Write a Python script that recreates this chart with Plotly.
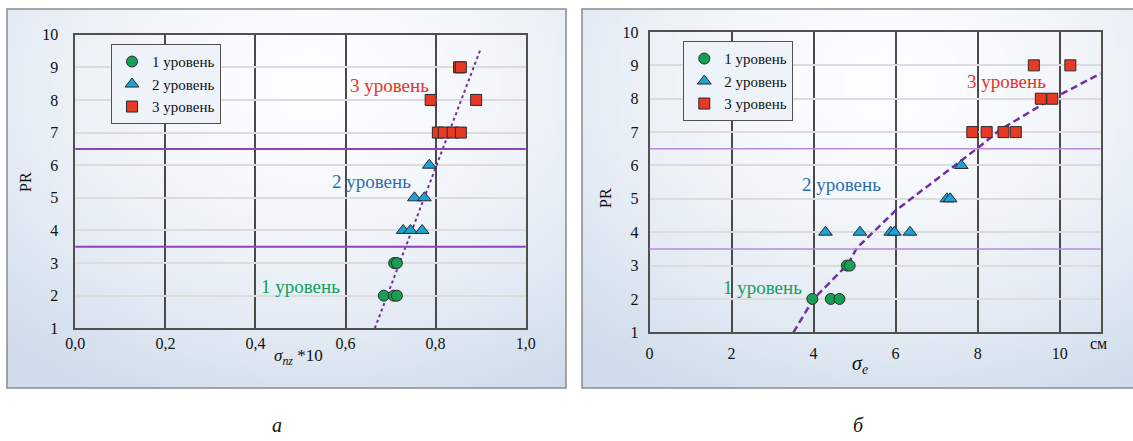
import base64
import struct
import zlib

import numpy as np
import plotly.graph_objects as go

# ---------------- data ----------------
# Panel a: sigma_nz*10 vs PR
a_l1_x = [0.685, 0.707, 0.714, 0.708, 0.714]
a_l1_y = [2, 2, 2, 3, 3]
a_l2_x = [0.728, 0.744, 0.770, 0.753, 0.775, 0.786]
a_l2_y = [4, 4, 4, 5, 5, 6]
a_l3_x = [0.805, 0.818, 0.838, 0.856, 0.789, 0.890, 0.852, 0.856]
a_l3_y = [7, 7, 7, 7, 8, 8, 9, 9]
a_trend_x = [0.665, 0.900]
a_trend_y = [1.0, 9.57]

# Panel b: sigma_e (cm) vs PR
b_l1_x = [3.97, 4.42, 4.63, 4.81, 4.88]
b_l1_y = [2, 2, 2, 3, 3]
b_l2_x = [4.29, 5.13, 5.88, 5.97, 6.35, 7.25, 7.33, 7.60]
b_l2_y = [4, 4, 4, 4, 4, 5, 5, 6]
b_l3_x = [7.87, 8.22, 8.63, 8.93, 9.54, 9.82, 9.37, 10.26]
b_l3_y = [7, 7, 7, 7, 8, 8, 9, 9]
b_trend_x = [3.51, 4.00, 4.85, 5.05, 6.00, 8.00, 8.55, 9.69, 11.0]
b_trend_y = [1.00, 2.00, 3.06, 3.52, 4.65, 6.52, 7.07, 7.91, 8.76]

level_bounds = [3.5, 6.5]
level_names = ["1 уровень", "2 уровень", "3 уровень"]

a_xticks = [0.0, 0.2, 0.4, 0.6, 0.8, 1.0]
a_xticktext = ["0,0", "0,2", "0,4", "0,6", "0,8", "1,0"]
b_xticks = [0, 2, 4, 6, 8, 10]
y_ticks = list(range(1, 11))

# ---------------- style ----------------
SERIF = "Liberation Serif, serif"
GREEN = "#17a055"
BLUE = "#1ca2d6"
RED = "#e63a25"
PURPLE = "#7030a0"
W, H = 1133, 441


def px_x(p):
    return p / W


def px_y(p):
    return 1 - p / H


def gradient_png(w=80, h=60, cx=0.55, cy=0.2):
    u = np.linspace(0, 1, w)[None, :]
    v = np.linspace(0, 1, h)[:, None]
    d = np.sqrt(((u - cx) / 0.85) ** 2 + ((v - cy) / 0.95) ** 2)
    t = np.clip(d, 0, 1) ** 1.6
    c0 = np.array([253, 254, 255], float)
    c1 = np.array([206, 219, 235], float)
    img = (c0[None, None, :] * (1 - t[..., None]) + c1[None, None, :] * t[..., None]).astype(np.uint8)
    raw = b"".join(b"\x00" + img[r].tobytes() for r in range(h))

    def chunk(tag, data):
        return struct.pack(">I", len(data)) + tag + data + struct.pack(">I", zlib.crc32(tag + data) & 0xFFFFFFFF)

    png = (b"\x89PNG\r\n\x1a\n" + chunk(b"IHDR", struct.pack(">IIBBBBB", w, h, 8, 2, 0, 0, 0))
           + chunk(b"IDAT", zlib.compress(raw, 9)) + chunk(b"IEND", b""))
    return "data:image/png;base64," + base64.b64encode(png).decode()


fig = go.Figure()

marker_specs = [
    dict(symbol="circle", size=11, color=GREEN),
    dict(symbol="triangle-up", size=12, color=BLUE),
    dict(symbol="square", size=11, color=RED),
]

panels = [
    ("x", "y", "legend", [(a_l1_x, a_l1_y), (a_l2_x, a_l2_y), (a_l3_x, a_l3_y)], a_trend_x, a_trend_y, "3px,3px", 2),
    ("x2", "y2", "legend2", [(b_l1_x, b_l1_y), (b_l2_x, b_l2_y), (b_l3_x, b_l3_y)], b_trend_x, b_trend_y, "7px,4px", 2.5),
]

for xa, ya, leg, series, tx, ty, dash, tw in panels:
    fig.add_trace(go.Scatter(x=tx, y=ty, mode="lines", xaxis=xa, yaxis=ya, showlegend=False,
                             line=dict(color=PURPLE, width=tw, dash=dash), hoverinfo="skip"))
    for (sx, sy), name, ms in zip(series, level_names, marker_specs):
        fig.add_trace(go.Scatter(
            x=sx, y=sy, mode="markers", name=name, xaxis=xa, yaxis=ya, legend=leg,
            marker=dict(symbol=ms["symbol"], size=ms["size"], color=ms["color"],
                        line=dict(color="#2a2a2a", width=1)),
        ))

# level boundary lines
for xa_ref, ya_ref, col, wid in [("x domain", "y", "#8e44b5", 2), ("x2 domain", "y2", "#b98ad8", 1.5)]:
    for b in level_bounds:
        fig.add_shape(type="line", xref=xa_ref, yref=ya_ref, x0=0, x1=1, y0=b, y1=b,
                      line=dict(color=col, width=wid))

# panel frames with gradient backgrounds
frames = [(7, 566, 9, 388), (582, 1140, 9, 388)]
grad = gradient_png()
for x0, x1, y0, y1 in frames:
    fig.add_layout_image(source=grad, xref="paper", yref="paper", x=px_x(x0), y=px_y(y0),
                         sizex=px_x(x1 - x0), sizey=(y1 - y0) / H, xanchor="left", yanchor="top",
                         sizing="stretch", layer="below")
    fig.add_shape(type="rect", xref="paper", yref="paper", x0=px_x(x0), x1=px_x(x1),
                  y0=px_y(y1), y1=px_y(y0), line=dict(color="#8a8a8a", width=1.5),
                  fillcolor="rgba(0,0,0,0)", layer="below")

axis_common = dict(showline=True, mirror=True, linecolor="#505050", linewidth=1.5,
                   zeroline=False, ticks="", automargin=False,
                   tickfont=dict(family=SERIF, size=16, color="#111"))

legend_common = dict(xanchor="left", yanchor="top", bgcolor="#eef3f9", bordercolor="#505050",
                     borderwidth=1, font=dict(family=SERIF, size=15, color="#111"),
                     itemwidth=30, tracegroupgap=0)

fig.update_layout(
    width=W, height=H, margin=dict(l=0, r=0, t=0, b=0, autoexpand=False),
    paper_bgcolor="white", plot_bgcolor="rgba(255,255,255,0.45)",
    font=dict(family=SERIF, size=16, color="#111"),
    xaxis=dict(domain=[px_x(75.3), px_x(525.7)], range=[0, 1], anchor="y",
               tickvals=a_xticks, ticktext=a_xticktext, showgrid=True, gridcolor="#4a4a4a",
               gridwidth=1.5, ticklabelstandoff=0, **axis_common),
    yaxis=dict(domain=[px_y(328.3), px_y(34.7)], range=[1, 10], anchor="x",
               tickvals=y_ticks, showgrid=True, gridcolor="#dcdcdc", gridwidth=1.5,
               ticklabelstandoff=12, **axis_common),
    xaxis2=dict(domain=[px_x(649.5), px_x(1100.7)], range=[0, 11], anchor="y2",
                tickvals=b_xticks, showgrid=True, gridcolor="#4a4a4a",
                gridwidth=1.5, ticklabelstandoff=6, **axis_common),
    yaxis2=dict(domain=[px_y(332.3), px_y(32)], range=[1, 10], anchor="x2",
                tickvals=y_ticks, showgrid=True, gridcolor="#dcdcdc", gridwidth=1.5,
                ticklabelstandoff=6, **axis_common),
    legend=dict(x=px_x(111), y=px_y(44.3), **legend_common),
    legend2=dict(x=px_x(683.3), y=px_y(41.3), **legend_common),
    showlegend=True,
)

# level labels inside plots
label_colors = ["#14a05a", "#2f6db3", "#e8322a"]
a_label_pos = [(0.50, 2.27), (0.658, 5.49), (0.698, 8.43)]
b_label_pos = [(2.76, 2.35), (4.69, 5.44), (8.71, 8.53)]
for (xa, ya, pos) in [("x", "y", a_label_pos), ("x2", "y2", b_label_pos)]:
    for (lx, ly), name, col in zip(pos, level_names, label_colors):
        fig.add_annotation(x=lx, y=ly, xref=xa, yref=ya, text=name, showarrow=False,
                           font=dict(family=SERIF, size=19, color=col))

# axis titles and captions
texts = [
    (25, 182, "PR", 16, -90),
    (605, 198, "PR", 16, -90),
    (299, 357, "<i>σ<sub>nz</sub></i> *10", 17, 0),
    (860, 364, "<i>σ<sub>e</sub></i>", 20, 0),
    (1098, 343, "см", 16, 0),
    (277, 425, "<i>а</i>", 20, 0),
    (858, 425, "<i>б</i>", 20, 0),
]
for tx_, ty_, txt, fs, ang in texts:
    fig.add_annotation(x=px_x(tx_), y=px_y(ty_), xref="paper", yref="paper", text=txt,
                       showarrow=False, textangle=ang, xanchor="center", yanchor="middle",
                       font=dict(family=SERIF, size=fs, color="#111"))

fig.write_html("out.html", config={"displayModeBar": False},
               post_script="document.body.style.margin='0';")
